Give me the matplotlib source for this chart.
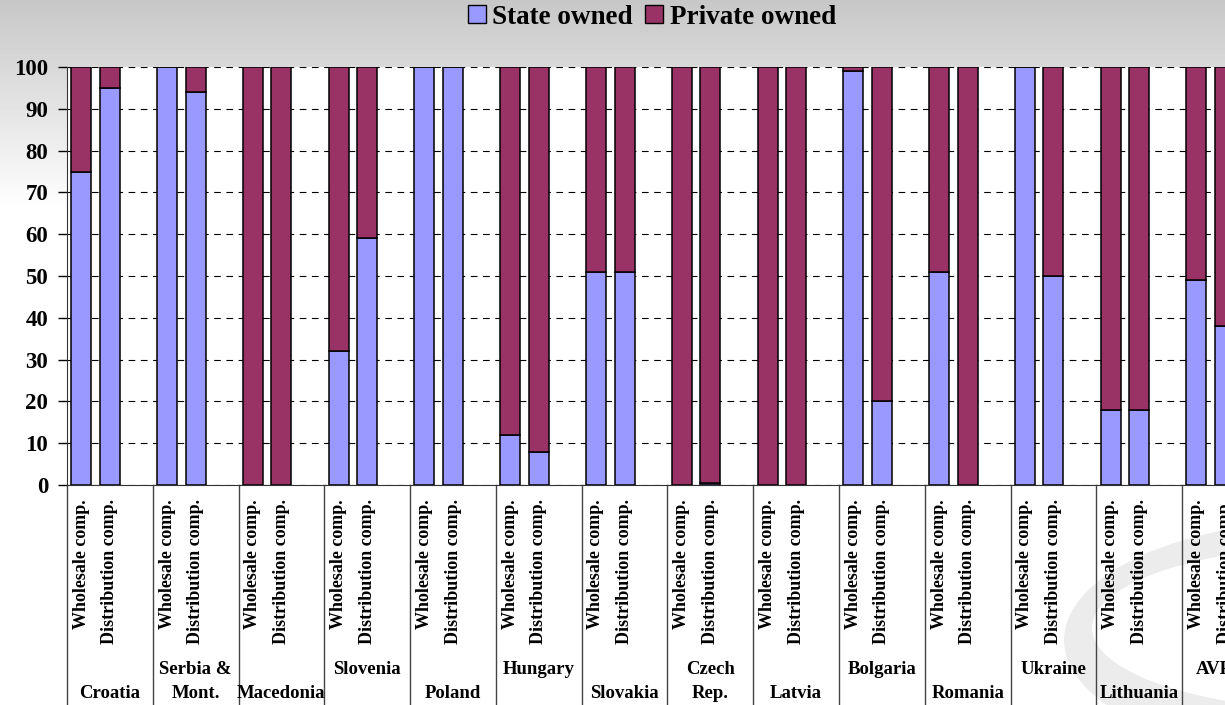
import matplotlib
matplotlib.use('Agg')
import matplotlib.pyplot as plt
import matplotlib.transforms as mtransforms
from matplotlib.patches import Patch, Ellipse
import numpy as np

plt.rcParams['font.family'] = ['Liberation Serif', 'DejaVu Serif']
plt.rcParams['font.weight'] = 'bold'

# --- data ---
countries = ['Croatia', 'Serbia &\nMont.', 'Macedonia', 'Slovenia', 'Poland', 'Hungary',
             'Slovakia', 'Czech\nRep.', 'Latvia', 'Bolgaria', 'Romania', 'Ukraine',
             'Lithuania', 'AVRG.']
bar_labels = ['Wholesale comp.', 'Distribution comp.']
state_wholesale = [75, 100, 0, 32, 100, 12, 51, 0, 0, 99, 51, 100, 18, 49]
state_distribution = [95, 94, 0, 59, 100, 8, 51, 0.5, 0, 20, 0, 50, 18, 38]
private_wholesale = [100 - v for v in state_wholesale]
private_distribution = [100 - v for v in state_distribution]

STATE_COLOR = '#9999FF'
PRIVATE_COLOR = '#993366'

W, H = 1225, 705
fig = plt.figure(figsize=(W / 100, H / 100), dpi=100)

# background: grey gradient at top fading to white
bg = fig.add_axes([0, 0, 1, 1], zorder=-5)
yy = np.arange(H)
shade = np.clip(0.78 + 0.22 * yy / 210.0, 0, 1)
grad = np.repeat(shade[:, None], 10, axis=1)
bg.imshow(grad, cmap='gray', vmin=0, vmax=1, aspect='auto', extent=[0, W, H, 0])
# faint swoosh decoration bottom right
bg.add_patch(Ellipse((1332, 640), 536, 240, facecolor='#ececec', edgecolor='none'))
bg.add_patch(Ellipse((1348, 628), 512, 166, facecolor='white', edgecolor='none'))
bg.set_xlim(0, W)
bg.set_ylim(H, 0)
bg.axis('off')

ax = fig.add_axes([67 / W, 220 / H, (W - 67) / W, 418 / H])
ax.set_facecolor('white')

x_w = np.arange(len(countries)) * 3
x_d = x_w + 1
bw = 0.70
kw = dict(edgecolor='black', linewidth=1.1, zorder=3)
ax.bar(x_w, state_wholesale, bw, color=STATE_COLOR, **kw)
ax.bar(x_w, private_wholesale, bw, bottom=state_wholesale, color=PRIVATE_COLOR, **kw)
ax.bar(x_d, state_distribution, bw, color=STATE_COLOR, **kw)
ax.bar(x_d, private_distribution, bw, bottom=state_distribution, color=PRIVATE_COLOR, **kw)

ax.set_xlim(-0.5, 39.99)
ax.set_ylim(0, 100)
ax.set_yticks(range(0, 101, 10))
ax.tick_params(axis='y', labelsize=16.5, length=6.5, width=1, direction='out', pad=7)
ax.yaxis.grid(True, linestyle=(0, (6, 5)), color='black', linewidth=0.8)
ax.set_axisbelow(True)

ticks = np.sort(np.concatenate([x_w, x_d]))
ax.set_xticks(ticks)
ax.set_xticklabels(bar_labels * len(countries), rotation=90, fontsize=13,
                   fontweight='bold', va='top', ha='center')
ax.tick_params(axis='x', length=0, pad=10)

for s in ['top', 'right']:
    ax.spines[s].set_visible(False)
ax.spines['left'].set_color('#333333')
ax.spines['bottom'].set_color('#333333')

# group separators and country names below the axis
trans = mtransforms.blended_transform_factory(ax.transData, ax.transAxes)
for g in range(len(countries) + 1):
    xs = -0.5 + 3 * g
    ax.plot([xs, xs], [0, -0.53], transform=trans, clip_on=False,
            color='#444444', linewidth=1)

top_y, bot_y = -(670 - 485) / 418, -(693 - 485) / 418
for g, name in enumerate(countries):
    xc = 3 * g + 1
    lines = name.split('\n')
    if len(lines) == 2:
        ax.text(xc, top_y, lines[0], transform=trans, ha='center', va='center', fontsize=13.5)
        ax.text(xc, bot_y, lines[1], transform=trans, ha='center', va='center', fontsize=13.5)
    else:
        y = top_y if g % 2 == 1 else bot_y
        ax.text(xc, y, name, transform=trans, ha='center', va='center', fontsize=13.5)

handles = [Patch(facecolor=STATE_COLOR, edgecolor='black', label='State owned'),
           Patch(facecolor=PRIVATE_COLOR, edgecolor='black', label='Private owned')]
fig.legend(handles=handles, loc='center', bbox_to_anchor=(652 / W, 1 - 17 / H), ncol=2,
           frameon=False, fontsize=19.5, handlelength=0.65, handleheight=0.65,
           handletextpad=0.25, columnspacing=0.45, borderaxespad=0, borderpad=0)

fig.savefig('out.png', dpi=100)
